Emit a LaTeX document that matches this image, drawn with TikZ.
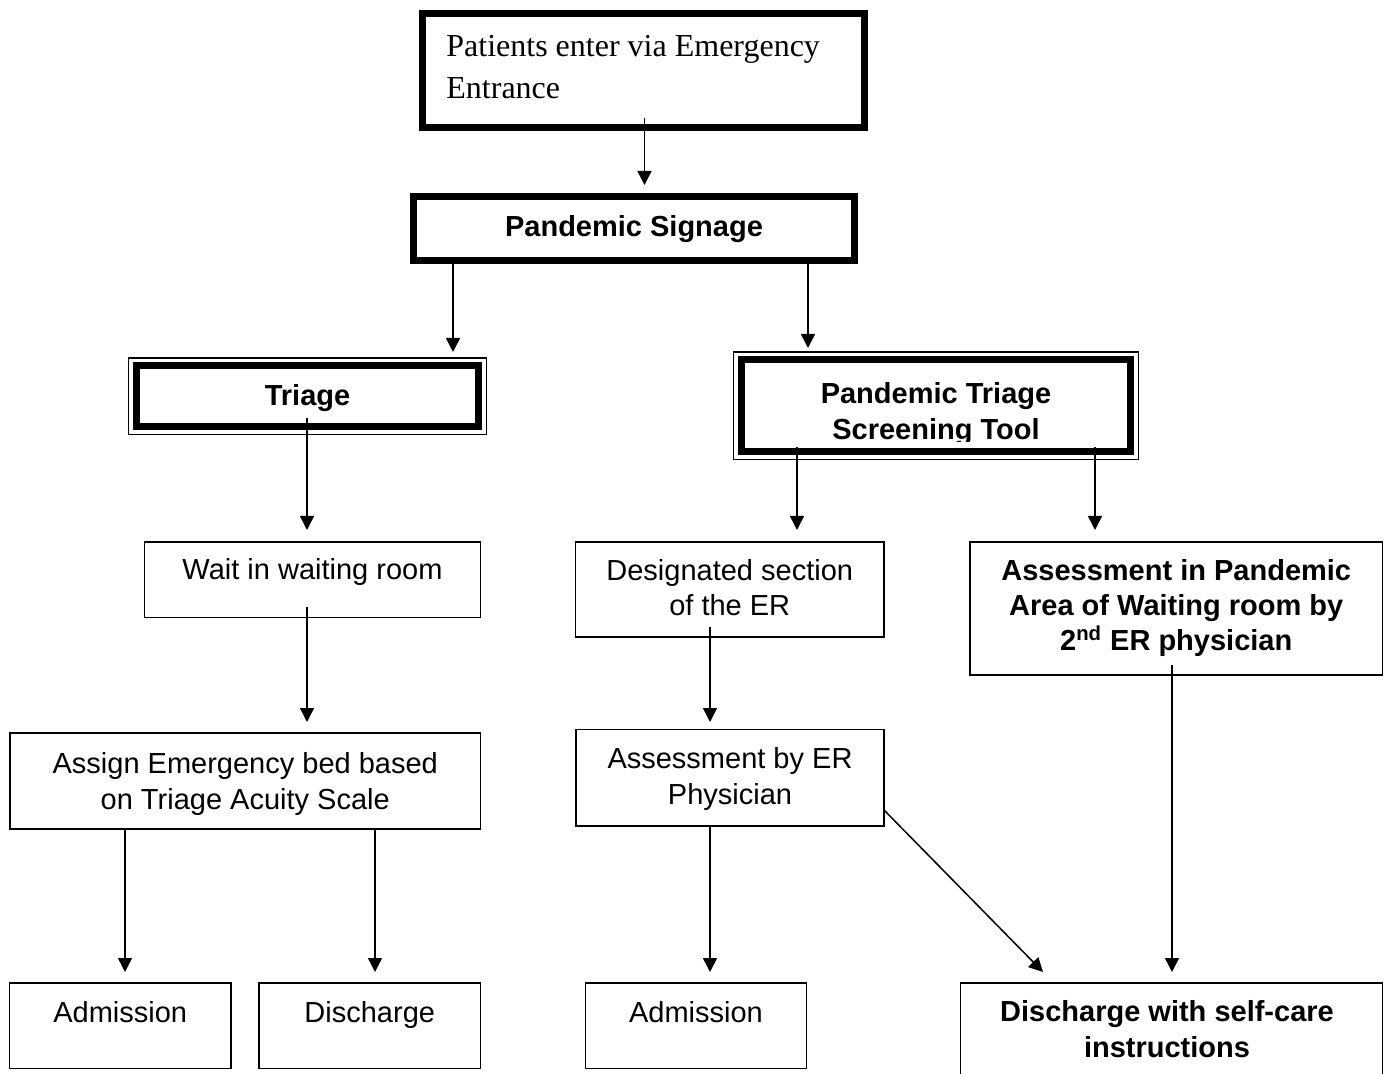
\documentclass[tikz,border=0pt]{standalone}
\usepackage{fontspec}
\setmainfont{Liberation Serif}
\newfontfamily\arialfont{Liberation Sans}
\usetikzlibrary{arrows.meta,calc}

\begin{document}
\begin{tikzpicture}[x=0.5pt,y=-0.5pt,
  thinbox/.style={draw, rectangle, line width=0.75pt, inner sep=0pt, outer sep=0pt},
  thickbox/.style={draw, rectangle, line width=3.5pt, inner sep=0pt, outer sep=0pt},
  frameline/.style={draw, line width=0.75pt},
  arr/.style={draw, line width=0.75pt, -{Triangle[length=7pt,width=7pt]}},
  lbl/.style={font=\arialfont\fontsize{14.5pt}{17.75pt}\selectfont, align=center, anchor=base, inner sep=0pt},
  blbl/.style={lbl, font=\arialfont\bfseries\fontsize{14.5pt}{17.75pt}\selectfont},
  serif/.style={font=\fontsize{16pt}{21pt}\selectfont, align=left, anchor=base west, inner sep=0pt}
]
\useasboundingbox (0,0) rectangle (1387,1074);
\clip (0,0) rectangle (1387,1074);

% ---------- boxes ----------
\node[thickbox, minimum width=221pt,   minimum height=57pt]    (top)      at (643.5,70.5) {};
\node[thickbox, minimum width=220.5pt, minimum height=32pt]    (signage)  at (634,228.5) {};
\node[thickbox, minimum width=171pt,   minimum height=30.25pt] (triage)   at (307.5,396.25) {};
\node[thickbox, minimum width=194.5pt, minimum height=45.75pt] (ptst)     at (936,405.75) {};
\draw[frameline] ($(triage.north west)+(-8,-8)$) rectangle ($(triage.south east)+(8,8)$);
\draw[frameline] ($(ptst.north west)+(-8,-8)$) rectangle ($(ptst.south east)+(8,8)$);

\node[thinbox, minimum width=168pt,    minimum height=37.75pt] (wait)     at (312.5,579.75) {};
\node[thinbox, minimum width=154.25pt, minimum height=47.5pt]  (desig)    at (729.75,589.5) {};
\node[thinbox, minimum width=206.25pt, minimum height=66.5pt]  (apand)    at (1176.25,608.5) {};
\node[thinbox, minimum width=235.25pt, minimum height=48pt]    (assign)   at (245.25,781) {};
\node[thinbox, minimum width=154pt,    minimum height=48.25pt] (aer)      at (730,777.75) {};
\node[thinbox, minimum width=110.75pt, minimum height=42.75pt] (admA)     at (120.25,1025.75) {};
\node[thinbox, minimum width=110.75pt, minimum height=42.75pt] (disA)     at (369.75,1025.75) {};
\node[thinbox, minimum width=110.5pt,  minimum height=42.75pt] (admB)     at (696,1025.75) {};
\node[thinbox, minimum width=211pt,    minimum height=58.5pt]  (dsc)      at (1171.5,1041.5) {};

% ---------- texts (multi-line texts sit on their last baseline) ----------
\node[serif] (toptext) at (446,99) {Patients enter via Emergency\\Entrance};
\node[blbl] (signagetext) at (634,237) {Pandemic Signage};
\node[blbl] (triagetext) at (307.5,406) {Triage};
\begin{scope}
  \clip (700,370) rectangle (1200,441.5);
  \node[blbl] (ptsttext) at (936,439.5) {Pandemic Triage\\Screening Tool};
\end{scope}
\node[lbl] (waittext) at (312.5,580) {Wait in waiting room};
\node[lbl] (desigtext) at (729.75,616) {Designated section\\of the ER};
\node[blbl] (apandtext) at (1176.25,651) {Assessment in Pandemic\\Area of Waiting room by\\2\textsuperscript{nd} ER physician};
\node[lbl] (assigntext) at (245.25,809) {Assign Emergency bed based\\on Triage Acuity Scale};
\node[lbl] (aertext) at (730,804) {Assessment by ER\\Physician};
\node[lbl] (admAtext) at (120.25,1022) {Admission};
\node[lbl] (disAtext) at (369.75,1022) {Discharge};
\node[lbl] (admBtext) at (696,1022) {Admission};
\node[blbl] (dsctext) at (1167,1057) {Discharge with self-care\\instructions};

% ---------- connectors ----------
\draw[arr] ($(top.south)+(1,-9.5)$) -- ($(signage.north)+(10.5,-11.5)$);
\draw[arr] ($(signage.south)+(-181,0)$) -- ($(triage.north)+(145.5,-14)$);
\draw[arr] ($(signage.south)+(174,0)$) -- ($(ptst.north)+(-128,-12)$);
\draw[arr] ($(triage.south)+(-0.5,-8.5)$) -- ($(wait.north)+(-5.5,-12)$);
\draw[arr] ($(ptst.south)+(-139,-4.5)$) -- ($(desig.north)+(67.25,-12)$);
\draw[arr] ($(ptst.south)+(159,-4.5)$) -- ($(apand.north)+(-81.25,-12)$);
\draw[arr] ($(wait.south)+(-5.5,-10.5)$) -- ($(assign.north)+(61.75,-11)$);
\draw[arr] ($(desig.south)+(-19.75,-10)$) -- ($(aer.north)+(-20,-7.5)$);
\draw[arr] ($(assign.south)+(-120.25,0)$) -- ($(admA.north)+(4.75,-11)$);
\draw[arr] ($(assign.south)+(129.75,0)$) -- ($(disA.north)+(5.25,-11)$);
\draw[arr] ($(aer.south)+(-20,0)$) -- ($(admB.north)+(14,-11)$);
\draw[arr] ($(aer.south east)+(0,-16)$) -- ($(dsc.north)+(-128.5,-11)$);
\draw[arr] ($(apand.south)+(-4.25,-10)$) -- ($(dsc.north)+(0.5,-11)$);
\end{tikzpicture}
\end{document}
